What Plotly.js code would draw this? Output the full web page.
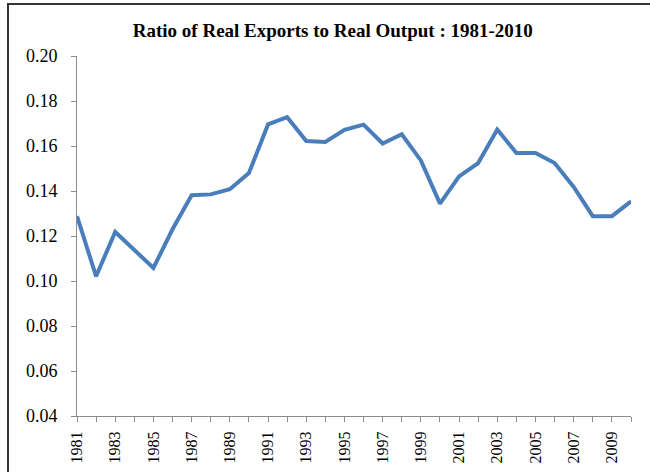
<!DOCTYPE html>
<html>
<head>
<meta charset="utf-8">
<script src="https://cdn.plot.ly/plotly-3.0.1.min.js"></script>
<style>
html,body{margin:0;padding:0;background:#fff;}
#frame{position:absolute;left:7px;top:3px;width:700px;height:520px;border-left:2px solid #333;border-top:2px solid #333;pointer-events:none;}
#chart{position:absolute;left:0;top:0;width:650px;height:472px;}
</style>
</head>
<body>
<div id="chart"></div>
<div id="frame"></div>
<script>
const years = [1981,1982,1983,1984,1985,1986,1987,1988,1989,1990,1991,1992,1993,1994,1995,1996,1997,1998,1999,2000,2001,2002,2003,2004,2005,2006,2007,2008,2009,2010];
const ratio = [0.1288,0.1021,0.1218,0.1137,0.1058,0.1230,0.1381,0.1385,0.1408,0.1480,0.1696,0.1728,0.1622,0.1618,0.1672,0.1695,0.1611,0.1652,0.1536,0.1344,0.1465,0.1524,0.1673,0.1569,0.1569,0.1524,0.1418,0.1288,0.1288,0.1354];
const yTicks = [0.04,0.06,0.08,0.10,0.12,0.14,0.16,0.18,0.20];
const xTickLabels = years.map(y => (y % 2 === 1 ? String(y) : ''));
const titleText = 'Ratio of Real Exports to Real Output : 1981-2010';

const serif = 'Liberation Serif, serif';

Plotly.newPlot('chart', [{
  x: years,
  y: ratio,
  type: 'scatter',
  mode: 'lines',
  line: {color: '#4A7EBB', width: 4},
  hoverinfo: 'x+y'
}], {
  width: 650,
  height: 472,
  margin: {l: 77, r: 19, t: 56, b: 56},
  paper_bgcolor: '#ffffff',
  plot_bgcolor: '#ffffff',
  showlegend: false,
  font: {family: serif, color: '#000'},
  title: {
    text: '<b>' + titleText + '</b>',
    font: {family: serif, size: 19, color: '#000'},
    x: 0.512, xanchor: 'center',
    y: 0.935, yanchor: 'middle'
  },
  xaxis: {
    range: [1981, 2010],
    tickvals: years,
    ticktext: xTickLabels,
    tickangle: -90,
    ticks: 'outside',
    ticklen: 5,
    tickcolor: '#8c8c8c',
    showline: true,
    linecolor: '#8c8c8c',
    linewidth: 1,
    showgrid: false,
    zeroline: false,
    ticklabelstandoff: 3,
    tickfont: {family: serif, size: 16, color: '#000'}
  },
  yaxis: {
    range: [0.04, 0.20],
    tickvals: yTicks,
    ticktext: yTicks.map(v => v.toFixed(2)),
    ticks: 'outside',
    ticklen: 5,
    tickcolor: '#8c8c8c',
    showline: true,
    linecolor: '#8c8c8c',
    linewidth: 1,
    showgrid: false,
    zeroline: false,
    ticklabelstandoff: 10,
    tickfont: {family: serif, size: 18, color: '#000'}
  }
}, {displayModeBar: false, staticPlot: true});
</script>
</body>
</html>
